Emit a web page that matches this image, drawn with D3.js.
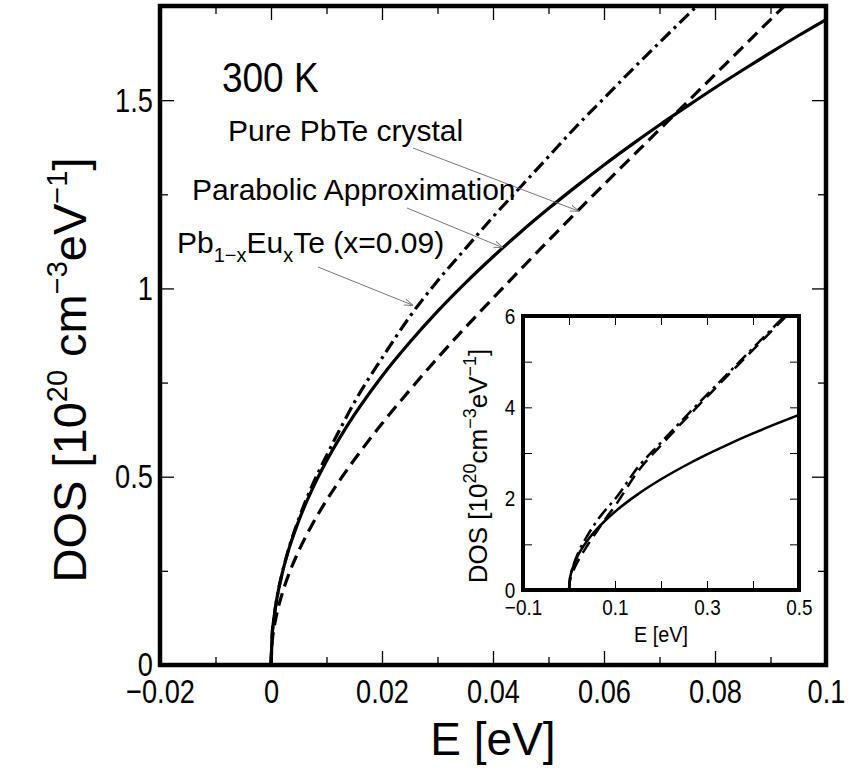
<!DOCTYPE html>
<html>
<head>
<meta charset="utf-8">
<script src="https://cdn.jsdelivr.net/npm/d3@7"></script>
<style>
  html, body { margin: 0; padding: 0; background: #fff; }
  svg { display: block; }
  text { font-family: "Liberation Sans", Arial, Helvetica, sans-serif; fill: #000; }
</style>
</head>
<body>
<svg id="chart" width="851" height="770"></svg>
<script>
// ---- main panel data (E in eV, DOS in 10^20 cm^-3 eV^-1) ----
const energy = [0, 0.0002, 0.0005, 0.001, 0.002, 0.003, 0.005, 0.0075, 0.01, 0.0125, 0.015,
  0.02, 0.025, 0.03, 0.035, 0.04, 0.045, 0.05, 0.055, 0.06, 0.065, 0.07, 0.075, 0.08,
  0.085, 0.09, 0.095, 0.1];
const dosParabolic = [0, 0.077, 0.121, 0.171, 0.242, 0.297, 0.383, 0.469, 0.542, 0.606, 0.664,
  0.767, 0.857, 0.939, 1.014, 1.084, 1.150, 1.212, 1.271, 1.328, 1.382, 1.434, 1.484, 1.533,
  1.580, 1.626, 1.671, 1.714];
const dosPurePbTe = [0, 0.059, 0.094, 0.133, 0.189, 0.233, 0.303, 0.375, 0.437, 0.493, 0.545,
  0.641, 0.730, 0.815, 0.896, 0.974, 1.051, 1.127, 1.202, 1.276, 1.349, 1.422, 1.495, 1.568,
  1.641, 1.714, 1.786, 1.86];
const dosPbEuTe = [0, 0.077, 0.121, 0.172, 0.243, 0.299, 0.388, 0.479, 0.556, 0.628, 0.697,
  0.815, 0.925, 1.020, 1.105, 1.190, 1.270, 1.350, 1.430, 1.505, 1.580, 1.653, 1.725, 1.797,
  1.87, 1.94, 2.01, 2.08];

// ---- inset data ----
const insetEnergy = [0, 0.002, 0.005, 0.01, 0.02, 0.04, 0.06, 0.08, 0.1, 0.15, 0.2, 0.25,
  0.3, 0.35, 0.4, 0.45, 0.5];
const insetParabolic = [0, 0.242, 0.383, 0.542, 0.767, 1.084, 1.328, 1.533, 1.714, 2.099,
  2.424, 2.71, 2.969, 3.207, 3.428, 3.636, 3.833];
const insetPurePbTe = [0, 0.189, 0.303, 0.437, 0.641, 0.974, 1.276, 1.568, 1.84, 2.60, 3.17,
  3.71, 4.23, 4.75, 5.26, 5.77, 6.28];
const insetPbEuTe = [0, 0.243, 0.388, 0.556, 0.815, 1.19, 1.505, 1.76, 1.99, 2.69, 3.23,
  3.76, 4.28, 4.79, 5.30, 5.81, 6.32];

// ---- tick values and labels ----
const xMajor = [-0.02, 0, 0.02, 0.04, 0.06, 0.08, 0.1];
const xMajorLabels = ["\u22120.02", "0", "0.02", "0.04", "0.06", "0.08", "0.1"];
const xMinor = [-0.01, 0.01, 0.03, 0.05, 0.07, 0.09];
const yMajor = [0, 0.5, 1, 1.5];
const yMajorLabels = ["0", "0.5", "1", "1.5"];
const yMinor = [0.25, 0.75, 1.25];

const insetXMajor = [-0.1, 0.1, 0.3, 0.5];
const insetXMajorLabels = ["\u22120.1", "0.1", "0.3", "0.5"];
const insetXMinor = [0, 0.2, 0.4];
const insetYMajor = [0, 2, 4, 6];
const insetYMajorLabels = ["0", "2", "4", "6"];
const insetYMinor = [1, 3, 5];

const svg = d3.select("#chart");

// line styles for the three curves
const styles = {
  parabolic: { dash: null },
  pure: { dash: "13,7" },
  eu: { dash: "13,5,3,5" }
};

function drawPanel(g, opt) {
  const x = d3.scaleLinear().domain(opt.xDomain).range([opt.left, opt.right]);
  const y = d3.scaleLinear().domain(opt.yDomain).range([opt.bottom, opt.top]);

  if (opt.fill) {
    g.append("rect").attr("x", opt.left).attr("y", opt.top)
      .attr("width", opt.right - opt.left).attr("height", opt.bottom - opt.top)
      .attr("fill", "#fff");
  }

  const clipId = opt.id + "-clip";
  g.append("clipPath").attr("id", clipId).append("rect")
    .attr("x", opt.left).attr("y", opt.top)
    .attr("width", opt.right - opt.left).attr("height", opt.bottom - opt.top);

  // ticks on all four sides, pointing inward
  const tickGroups = [
    { axis: d3.axisBottom(x), tr: `translate(0,${opt.bottom})`, vals: opt.xMajor, len: opt.major, labels: opt.xLabels, pad: opt.padX },
    { axis: d3.axisBottom(x), tr: `translate(0,${opt.bottom})`, vals: opt.xMinor, len: opt.minor },
    { axis: d3.axisTop(x), tr: `translate(0,${opt.top})`, vals: opt.xMajor, len: opt.major },
    { axis: d3.axisTop(x), tr: `translate(0,${opt.top})`, vals: opt.xMinor, len: opt.minor },
    { axis: d3.axisLeft(y), tr: `translate(${opt.left},0)`, vals: opt.yMajor, len: opt.major, labels: opt.yLabels, pad: opt.padY },
    { axis: d3.axisLeft(y), tr: `translate(${opt.left},0)`, vals: opt.yMinor, len: opt.minor },
    { axis: d3.axisRight(y), tr: `translate(${opt.right},0)`, vals: opt.yMajor, len: opt.major },
    { axis: d3.axisRight(y), tr: `translate(${opt.right},0)`, vals: opt.yMinor, len: opt.minor }
  ];
  tickGroups.forEach(t => {
    const vals = t.vals;
    const ax = t.axis.tickValues(vals).tickSizeInner(-t.len).tickSizeOuter(0)
      .tickPadding(t.pad || 0)
      .tickFormat(t.labels ? (d => t.labels[vals.indexOf(d)]) : () => "");
    const ag = g.append("g").attr("transform", t.tr).call(ax);
    ag.select(".domain").remove();
    ag.selectAll(".tick line").attr("stroke", "#000").attr("stroke-width", opt.tickWidth);
    ag.selectAll(".tick text").attr("font-size", opt.tickFont)
      .attr("font-family", '"Liberation Sans", Arial, sans-serif').attr("fill", "#000")
      .attr("transform", `scale(${opt.tickScaleX},1)`);
  });

  // curves
  const line = d3.line().x(d => x(d[0])).y(d => y(d[1])).curve(d3.curveMonotoneX);
  const curves = g.append("g").attr("clip-path", `url(#${clipId})`);
  opt.series.forEach(s => {
    curves.append("path")
      .datum(opt.energy.map((e, i) => [e, s.values[i]]))
      .attr("d", line)
      .attr("fill", "none")
      .attr("stroke", "#000")
      .attr("stroke-width", opt.lineWidth)
      .attr("stroke-dasharray", styles[s.style].dash)
      .attr("stroke-linejoin", "round");
  });

  // frame
  g.append("rect").attr("x", opt.left).attr("y", opt.top)
    .attr("width", opt.right - opt.left).attr("height", opt.bottom - opt.top)
    .attr("fill", "none").attr("stroke", "#000").attr("stroke-width", opt.frameWidth);

  return { x, y };
}

// ---------- main panel ----------
const mainG = svg.append("g");
const main = drawPanel(mainG, {
  id: "main", left: 160, right: 826, top: 6, bottom: 665,
  xDomain: [-0.02, 0.1], yDomain: [0, 1.75],
  xMajor, xMinor, yMajor, yMinor, xLabels: xMajorLabels, yLabels: yMajorLabels,
  major: 14, minor: 8, padX: 14, padY: 9, tickWidth: 1.3, tickFont: 34, tickScaleX: 0.8,
  lineWidth: 3.2, frameWidth: 4.5,
  energy,
  series: [
    { values: dosParabolic, style: "parabolic" },
    { values: dosPurePbTe, style: "pure" },
    { values: dosPbEuTe, style: "eu" }
  ]
});

// axis titles
mainG.append("text").attr("x", 493).attr("y", 755).attr("text-anchor", "middle")
  .attr("font-size", 46).text("E [eV]");

const yTitle = mainG.append("text")
  .attr("transform", "translate(86,370) rotate(-90)")
  .attr("text-anchor", "middle").attr("font-size", 47);
yTitle.append("tspan").text("DOS [10");
yTitle.append("tspan").attr("dy", -19).attr("font-size", 29).text("20");
yTitle.append("tspan").attr("dy", 19).text(" cm");
yTitle.append("tspan").attr("dy", -19).attr("font-size", 29).text("\u22123");
yTitle.append("tspan").attr("dy", 19).text("eV");
yTitle.append("tspan").attr("dy", -19).attr("font-size", 29).text("\u22121");
yTitle.append("tspan").attr("dy", 19).text("]");

// temperature label
mainG.append("text").attr("transform", "translate(222,92) scale(0.86,1)")
  .attr("font-size", 43).text("300 K");

// curve annotations with thin arrows
const defs = svg.append("defs");
defs.append("marker").attr("id", "arrow").attr("viewBox", "0 0 10 10")
  .attr("refX", 10).attr("refY", 5).attr("markerWidth", 9).attr("markerHeight", 9)
  .attr("orient", "auto").attr("markerUnits", "userSpaceOnUse")
  .append("path").attr("d", "M0,1.5 L10,5 L0,8.5").attr("fill", "none")
  .attr("stroke", "#777").attr("stroke-width", 1);

const notes = [
  { text: "Pure PbTe crystal", tx: 228, ty: 141, from: [413, 148], to: [main.x(0.0555), main.y(1.205)] },
  { text: "Parabolic Approximation", tx: 192, ty: 200, from: [407, 208], to: [main.x(0.0418), main.y(1.108)] },
  { text: null, tx: 177, ty: 253, from: [318, 267], to: [main.x(0.0256), main.y(0.955)] }
];
notes.forEach(n => {
  mainG.append("line").attr("x1", n.from[0]).attr("y1", n.from[1])
    .attr("x2", n.to[0]).attr("y2", n.to[1])
    .attr("stroke", "#777").attr("stroke-width", 1)
    .attr("marker-end", "url(#arrow)");
  if (n.text) {
    mainG.append("text").attr("x", n.tx).attr("y", n.ty).attr("font-size", 30).text(n.text);
  }
});
const euLabel = mainG.append("text").attr("x", notes[2].tx).attr("y", notes[2].ty).attr("font-size", 30);
euLabel.append("tspan").text("Pb");
euLabel.append("tspan").attr("dy", 9).attr("font-size", 20).text("1\u2212x");
euLabel.append("tspan").attr("dy", -9).text("Eu");
euLabel.append("tspan").attr("dy", 9).attr("font-size", 20).text("x");
euLabel.append("tspan").attr("dy", -9).text("Te (x=0.09)");

// ---------- inset ----------
const insetG = svg.append("g");
drawPanel(insetG, {
  id: "inset", left: 523, right: 799, top: 316, bottom: 590, fill: true,
  xDomain: [-0.1, 0.5], yDomain: [0, 6],
  xMajor: insetXMajor, xMinor: insetXMinor, yMajor: insetYMajor, yMinor: insetYMinor,
  xLabels: insetXMajorLabels, yLabels: insetYMajorLabels,
  major: 9, minor: 9, padX: 9, padY: 9, tickWidth: 1, tickFont: 22, tickScaleX: 0.86,
  lineWidth: 2.5, frameWidth: 4,
  energy: insetEnergy,
  series: [
    { values: insetParabolic, style: "parabolic" },
    { values: insetPurePbTe, style: "pure" },
    { values: insetPbEuTe, style: "eu" }
  ]
});
insetG.append("text").attr("transform", "translate(661,642) scale(0.9,1)")
  .attr("text-anchor", "middle").attr("font-size", 22).text("E [eV]");
const iyTitle = insetG.append("text")
  .attr("transform", "translate(487,466) rotate(-90)")
  .attr("text-anchor", "middle").attr("font-size", 26);
iyTitle.append("tspan").text("DOS [10");
iyTitle.append("tspan").attr("dy", -11).attr("font-size", 18).text("20");
iyTitle.append("tspan").attr("dy", 11).text("cm");
iyTitle.append("tspan").attr("dy", -11).attr("font-size", 18).text("\u22123");
iyTitle.append("tspan").attr("dy", 11).text("eV");
iyTitle.append("tspan").attr("dy", -11).attr("font-size", 18).text("\u22121");
iyTitle.append("tspan").attr("dy", 11).text("]");
</script>
</body>
</html>
